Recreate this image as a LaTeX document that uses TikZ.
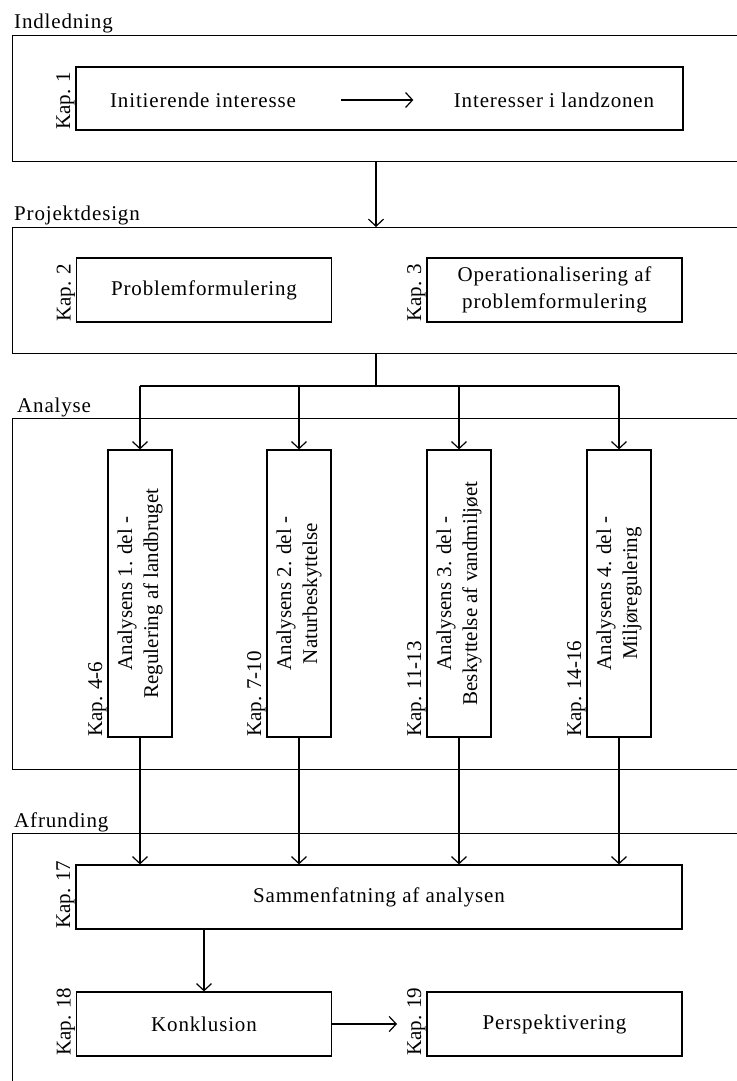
\documentclass[tikz,border=0pt]{standalone}
\usepackage{fontspec}
\setmainfont{Liberation Serif}
\newfontfamily\spacedserif{Liberation Serif}[LetterSpace=4]
\newcommand\wideText{\spacedserif\fontsize{21}{27}\selectfont}
\usetikzlibrary{arrows.meta}

\tikzset{
  part/.style={draw, line width=1.2pt, anchor=north west, inner sep=0pt, minimum width=760pt},
  box/.style={draw, line width=1.2pt, align=center, inner sep=2pt, font=\wideText},
  vbox/.style={draw, line width=1.2pt, align=center, inner sep=2pt, rotate=90,
    minimum width=287pt, minimum height=64pt},
  kap/.style={rotate=90, anchor=south west, inner sep=0.5pt},
  partlabel/.style={anchor=base west, inner sep=0pt, font=\wideText},
  arr/.style={-{Straight Barb[length=7pt,width=15pt]}, line width=1.2pt}
}

\begin{document}
\begin{tikzpicture}[x=1pt,y=-1pt,font=\fontsize{21}{26}\selectfont]
\useasboundingbox (0,0) rectangle (736,1081);

% Indledning
\node[part, minimum height=126pt] (indl) at (12,35) {};
\node[partlabel] (indlL) at (14,29) {Indledning};
\node[box, minimum width=607pt, minimum height=63pt] (b1) at (379.5,98.5) {};
\node[kap] (k1) at (b1.south west) {Kap. 1};
\node[font=\wideText] (init) at (203,100) {Initierende interesse};
\node[font=\wideText] (land) at (554,100) {Interesser i landzonen};
\draw[arr, shorten <=42pt, shorten >=37pt] (init) -- (land);

% Projektdesign
\node[part, minimum height=126pt] (proj) at (12,227) {};
\node[partlabel] (projL) at (14,220) {Projektdesign};
\node[box, minimum width=255pt, minimum height=64pt] (b2) at (204,290) {Problemformulering};
\node[kap] (k2) at (b2.south west) {Kap. 2};
\node[box, minimum width=255pt, minimum height=64pt] (b3) at (554.5,290) {Operationalisering af\\problemformulering};
\node[kap] (k3) at (b3.south west) {Kap. 3};

\coordinate (split) at (376,386);
\draw[arr] (indl.south -| split) -- (proj.north -| split);

% Analyse
\node[part, minimum height=351pt] (anal) at (12,418) {};
\node[partlabel] (analL) at (17,412) {Analyse};
\node[vbox] (a1) at (140,593.5) {Analysens 1. del -\\Regulering af landbruget};
\node[vbox] (a2) at (299,593.5) {Analysens 2. del -\\Naturbeskyttelse};
\node[vbox] (a3) at (459,593.5) {Analysens 3. del -\\Beskyttelse af vandmiljøet};
\node[vbox] (a4) at (619,593.5) {Analysens 4. del -\\Miljøregulering};
\node[kap] (k4) at (a1.north west) {Kap. 4-6};
\node[kap] (k7) at (a2.north west) {Kap. 7-10};
\node[kap] (k11) at (a3.north west) {Kap. 11-13};
\node[kap] (k14) at (a4.north west) {Kap. 14-16};

\draw[line width=1.2pt] (proj.south -| split) -- (split);
\draw[line width=1.2pt] (split -| a1.east) -- (split -| a4.east);

% Afrunding
\node[part, minimum height=280pt] (afr) at (12,833) {};
\node[partlabel] (afrL) at (14,827) {Afrunding};
\node[box, minimum width=606pt, minimum height=64pt] (sam) at (379,897) {Sammenfatning af analysen};
\node[kap] (k17) at (sam.south west) {Kap. 17};
\node[box, minimum width=255pt, minimum height=64pt] (konk) at (204,1024) {Konklusion};
\node[kap] (k18) at (konk.south west) {Kap. 18};
\node[box, minimum width=255pt, minimum height=64pt] (persp) at (554.5,1024) {Perspektivering};
\node[kap] (k19) at (persp.south west) {Kap. 19};
\coordinate (kend) at (397,1024);

\foreach \n in {a1,a2,a3,a4} {
  \draw[arr] (split -| \n.east) -- (\n.east);
  \draw[arr] (\n.west) -- (\n.west |- sam.north);
}
\draw[arr] (sam.south -| konk.north) -- (konk.north);
\draw[arr] (konk.east) -- (kend);
\end{tikzpicture}
\end{document}
